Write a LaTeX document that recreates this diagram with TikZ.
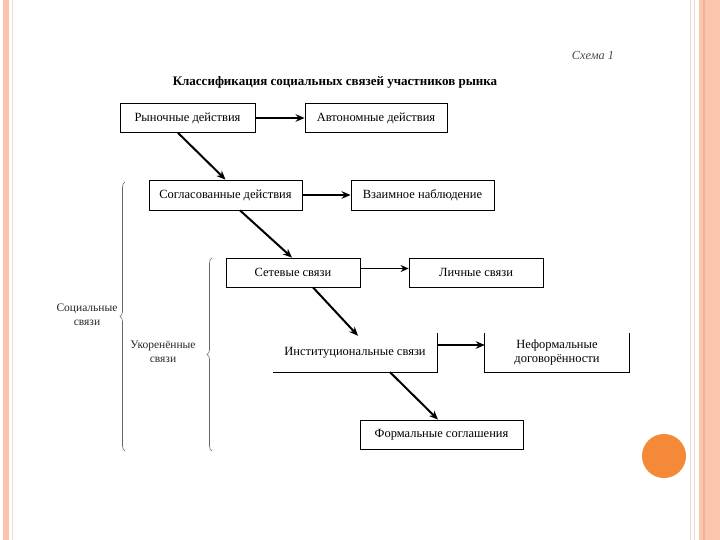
\documentclass[tikz,border=0pt]{standalone}
\usepackage{fontspec}
\setmainfont{Liberation Serif}
\usetikzlibrary{arrows.meta,decorations.pathreplacing,calc}
\definecolor{stripe}{HTML}{FBC4AE}
\definecolor{stripedark}{HTML}{F6B096}
\definecolor{stripelight}{HTML}{F4D8CB}
\definecolor{dot}{HTML}{F5893A}
\begin{document}
\begin{tikzpicture}[x=1pt,y=-1pt,
  box/.style={draw,line width=0.8pt,font=\fontsize{12.5}{14}\selectfont,inner sep=0pt,align=center},
  openbox/.style={inner sep=0pt,font=\fontsize{12.5}{14}\selectfont,align=center},
  harr/.style={line width=2pt,-{Stealth[length=9pt,width=7.5pt]}},
  tharr/.style={line width=1.2pt,-{Stealth[length=8pt,width=7pt]}},
  darr/.style={line width=2pt,-{Stealth[length=9pt,width=7.5pt]}},
  br/.style={decorate,decoration={brace,amplitude=5pt},draw=black!60,line width=0.6pt},
  brlabel/.style={font=\fontsize{11.5}{14}\selectfont,align=center,text=black!85}]
\useasboundingbox (0,0) rectangle (720,540);
\fill[white] (0,0) rectangle (720,540);
% slide decorations
\fill[stripe] (3,0) rectangle (9,540);
\draw[stripelight,line width=0.8pt] (12.5,0) -- (12.5,540);
\draw[stripelight,line width=1pt] (690,0) -- (690,540);
\draw[stripelight,line width=1pt] (694,0) -- (694,540);
\fill[stripe] (699,0) rectangle (720,540);
\draw[stripedark,line width=1.5pt] (704,0) -- (704,540);
\fill[dot] (664,456) circle (22);
% titles
\node[font=\itshape\fontsize{12.3}{14}\selectfont,text=black!70] (schema) at (593,55) {Схема 1};
\node[font=\bfseries\fontsize{13}{14}\selectfont] (title) at (335,82) {Классификация социальных связей участников рынка};
% boxes
\node[box,minimum width=135pt,minimum height=29pt] (ryn) at (187.5,118) {Рыночные действия};
\node[box,minimum width=142pt,minimum height=29pt] (avt) at (376,118) {Автономные действия};
\node[box,minimum width=153pt,minimum height=30pt] (sog) at (225.5,195) {Согласованные действия};
\node[box,minimum width=143pt,minimum height=30pt] (vza) at (422.5,195) {Взаимное наблюдение};
\node[box,minimum width=134pt,minimum height=29pt] (set) at (293,272.5) {Сетевые связи};
\node[box,minimum width=134pt,minimum height=29pt] (lich) at (476,272.5) {Личные связи};
\node[openbox,minimum width=164pt,minimum height=39pt] (inst) at (355,352.5) {Институциональные связи};
\node[openbox,minimum width=144pt,minimum height=39pt] (nef) at (557,352.5) {Неформальные\\договорённости};
\node[box,minimum width=163pt,minimum height=29pt] (form) at (441.5,434.5) {Формальные соглашения};
% open box borders
\draw[line width=0.8pt] (inst.south west) -- (inst.south east) -- (inst.north east);
\draw[line width=0.8pt] (nef.north west) -- (nef.south west) -- (nef.south east) -- (nef.north east);
% horizontal arrows
\draw[harr] (ryn.east) -- (avt.west);
\draw[harr] (sog.east) -- (vza.west);
\draw[tharr] ([yshift=4pt]set.east) -- ([yshift=4pt]lich.west);
\draw[harr] ([yshift=7.5pt]inst.east) -- ([yshift=7.5pt]nef.west);
% diagonal arrows
\draw[darr] ([xshift=-9.5pt]ryn.south) -- (sog.north);
\draw[darr] ([xshift=14.5pt]sog.south) -- ([xshift=-1pt]set.north);
\draw[darr] ([xshift=20pt]set.south) -- ([xshift=3pt,yshift=-3pt]inst.north);
\draw[darr] ([xshift=35pt]inst.south) -- ([xshift=-3.5pt]form.north);
% braces
\coordinate (b1t) at (125,182);
\coordinate (b1b) at (125,451);
\coordinate (b2t) at (212,258);
\coordinate (b2b) at (212,451);
\draw[br] (b1b) -- (b1t);
\draw[br] (b2b) -- (b2t);
\node[brlabel] (soc) at (87,314.5) {Социальные\\связи};
\node[brlabel] (ukor) at (163,352) {Укоренённые\\связи};
\end{tikzpicture}
\end{document}
